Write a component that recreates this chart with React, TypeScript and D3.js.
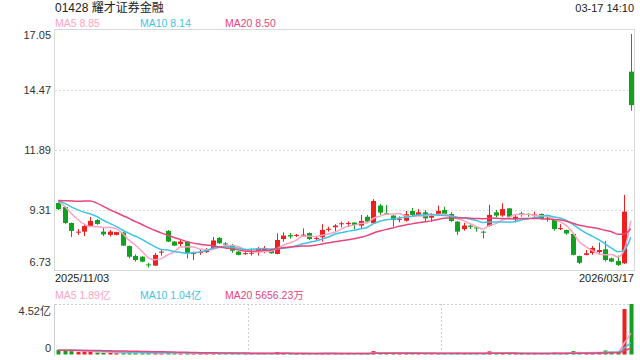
import React from 'react';
import * as d3 from 'd3';

const title = '01428 耀才证券金融';
const timeStamp = '03-17 14:10';
const startDate = '2025/11/03';
const endDate = '2026/03/17';
const priceTicks = [6.73, 9.31, 11.89, 14.47, 17.05];
const volTicks = [0, 4.52];
const volTickLabels = ['0', '4.52亿'];
const maLabels = ['MA5 8.85', 'MA10 8.14', 'MA20 8.50'];
const volMaLabels = ['MA5 1.89亿', 'MA10 1.04亿', 'MA20 5656.23万'];

const opens = [9.61, 9.44, 8.75, 8.36, 8.38, 8.62, 8.88, 8.38, 8.24, 8.24,
  8.34, 7.76, 7.33, 7.30, 6.97, 6.92, 7.48, 8.41, 7.95, 7.85,
  7.95, 7.42, 7.48, 7.50, 7.66, 8.11, 7.87, 7.81, 7.52, 7.43,
  7.44, 7.52, 7.55, 7.62, 7.42, 8.06, 8.23, 8.21, 8.22, 8.32,
  8.08, 8.14, 8.47, 8.57, 8.72, 8.73, 8.77, 8.64, 9.02, 8.74,
  9.50, 9.17, 9.07, 8.90, 8.85, 9.27, 9.10, 9.21, 8.98, 9.14,
  9.31, 9.14, 8.81, 8.49, 8.64, 8.56, 8.38, 8.62, 9.21, 9.07,
  9.38, 8.91, 9.17, 9.14, 9.10, 9.14, 8.98, 8.88, 8.50, 8.45,
  8.28, 7.33, 7.38, 7.46, 7.50, 7.62, 7.23, 7.12, 7.02, 15.26];
const highs = [9.65, 9.48, 8.77, 8.49, 8.71, 9.01, 8.92, 8.54, 8.45, 8.38,
  8.38, 7.78, 7.40, 7.33, 7.04, 7.46, 7.63, 8.45, 7.98, 8.02,
  7.98, 7.52, 7.59, 7.68, 8.15, 8.15, 7.93, 7.85, 7.55, 7.52,
  7.66, 7.71, 7.76, 7.64, 8.31, 8.35, 8.32, 8.28, 8.52, 8.34,
  8.17, 8.70, 8.59, 8.70, 8.81, 8.82, 8.78, 9.10, 9.10, 9.78,
  9.57, 9.53, 9.10, 9.03, 9.27, 9.40, 9.35, 9.31, 9.17, 9.50,
  9.45, 9.22, 8.84, 8.76, 8.74, 8.59, 8.42, 9.53, 9.31, 9.60,
  9.40, 9.10, 9.24, 9.17, 9.24, 9.16, 9.02, 8.92, 8.70, 8.47,
  8.30, 7.35, 7.59, 7.76, 7.91, 7.98, 7.27, 7.35, 9.96, 16.88];
const lows = [9.31, 8.71, 8.15, 8.24, 8.19, 8.60, 8.67, 8.19, 8.17, 8.22,
  7.76, 7.23, 7.09, 7.07, 6.84, 6.90, 7.35, 7.93, 7.76, 7.74,
  7.23, 7.16, 7.38, 7.46, 7.64, 7.85, 7.72, 7.47, 7.36, 7.38,
  7.35, 7.35, 7.45, 7.43, 7.40, 7.95, 8.08, 8.15, 8.19, 8.02,
  8.02, 7.95, 8.38, 8.38, 8.57, 8.58, 8.48, 8.52, 8.74, 8.72,
  9.10, 9.09, 8.59, 8.78, 8.81, 9.05, 9.08, 8.81, 8.81, 9.14,
  9.10, 8.80, 8.24, 8.42, 8.49, 8.38, 8.09, 8.59, 9.00, 9.02,
  9.00, 8.78, 9.02, 9.02, 9.02, 8.90, 8.81, 8.42, 8.45, 8.24,
  7.36, 6.99, 7.36, 7.38, 7.38, 7.09, 7.07, 6.90, 6.99, 13.58];
const closes = [9.35, 8.75, 8.41, 8.38, 8.62, 8.84, 8.71, 8.26, 8.38, 8.36,
  7.78, 7.30, 7.16, 7.09, 6.94, 7.38, 7.52, 7.95, 7.78, 7.95,
  7.45, 7.46, 7.51, 7.63, 8.00, 7.88, 7.83, 7.56, 7.38, 7.45,
  7.47, 7.66, 7.64, 7.45, 8.02, 8.21, 8.17, 8.24, 8.25, 8.06,
  8.11, 8.45, 8.50, 8.64, 8.74, 8.75, 8.67, 8.84, 8.81, 9.70,
  9.20, 9.10, 8.88, 8.93, 9.13, 9.10, 9.21, 8.95, 9.07, 9.27,
  9.14, 8.84, 8.38, 8.64, 8.59, 8.53, 8.34, 9.10, 9.07, 9.35,
  9.02, 9.02, 9.13, 9.11, 9.12, 8.92, 8.95, 8.49, 8.53, 8.30,
  7.38, 7.04, 7.45, 7.68, 7.59, 7.16, 7.09, 6.95, 9.24, 13.82];
// volume in 亿
const volumes = [0.42, 0.38, 0.30, 0.22, 0.28, 0.30, 0.18, 0.15, 0.14, 0.12,
  0.22, 0.20, 0.14, 0.12, 0.13, 0.20, 0.12, 0.25, 0.12, 0.10,
  0.14, 0.10, 0.08, 0.08, 0.14, 0.10, 0.07, 0.09, 0.08, 0.06,
  0.06, 0.07, 0.06, 0.07, 0.22, 0.12, 0.08, 0.07, 0.09, 0.08,
  0.06, 0.14, 0.09, 0.08, 0.07, 0.07, 0.08, 0.12, 0.10, 0.30,
  0.18, 0.12, 0.10, 0.07, 0.10, 0.08, 0.07, 0.09, 0.07, 0.10,
  0.08, 0.09, 0.15, 0.08, 0.06, 0.06, 0.09, 0.28, 0.12, 0.14,
  0.12, 0.08, 0.07, 0.06, 0.07, 0.08, 0.07, 0.16, 0.10, 0.10,
  0.30, 0.18, 0.12, 0.15, 0.20, 0.36, 0.25, 0.25, 4.07, 4.52];
const priorCloses = [8.9, 8.7, 8.6, 8.5, 8.7, 10.6, 11.0, 11.2, 10.9, 10.3,
  9.8, 9.9, 9.6, 9.7, 9.6, 9.8, 9.9, 9.7, 9.66];
const priorVolumes = [0.35, 0.40, 0.42, 0.38, 0.36, 0.40, 0.39, 0.37, 0.41, 0.38,
  0.36, 0.40, 0.38, 0.42, 0.37, 0.39, 0.36, 0.40, 0.38];

const RED = '#f01f1f';
const GREEN = '#12a020';
const MA_COLORS = ['#ffa3c2', '#3fc4e4', '#e8457a'];
const MA_PERIODS = [5, 10, 20];
const FONT = "'Liberation Sans', Arial, 'Noto Sans CJK SC', sans-serif";

function movingAvg(prior: number[], vals: number[], n: number): number[] {
  const all = prior.concat(vals);
  const off = prior.length;
  return vals.map((_, i) => {
    const end = off + i;
    return d3.mean(all.slice(end - n + 1, end + 1)) as number;
  });
}

export default function App() {
  const left = 55, right = 634, top = 30, bottom = 270;
  const vTop = 304, vBottom = 354.5;
  const idx = d3.range(closes.length);
  const x = d3.scaleBand<number>().domain(idx).range([left, right]).padding(0);
  const cx = (i: number) => (x(i) as number) + x.bandwidth() / 2;
  const y = d3.scaleLinear().domain([priceTicks[0], priceTicks[priceTicks.length - 1]]).range([bottom, top]);
  const yv = d3.scaleLinear().domain([volTicks[0], volTicks[1]]).range([vBottom, vTop]);

  const maLines = MA_PERIODS.map(p => movingAvg(priorCloses, closes, p));
  const vmaLines = MA_PERIODS.map(p => movingAvg(priorVolumes, volumes, p));
  const line = d3.line<number>().x((_, i) => cx(i)).y(d => y(d)).curve(d3.curveMonotoneX);
  const vline = d3.line<number>().x((_, i) => cx(i)).y(d => yv(d)).curve(d3.curveMonotoneX);

  const thirds = [1, 2].map(k => Math.round(left + (right - left) * k / 3) + 0.5);

  return (
    <svg width={640} height={360} style={{ position: 'absolute', left: 0, top: 0, background: '#fff' }} fontFamily={FONT}>
      <rect x={0} y={0} width={640} height={360} fill="#fff" />
      <text x={55} y={12} fontSize={12} fill="#222">{title}</text>
      <text x={634} y={12} fontSize={11} fill="#222" textAnchor="end">{timeStamp}</text>
      {maLabels.map((t, k) => (
        <text key={k} x={55 + k * 85} y={27} fontSize={10.5} fill={MA_COLORS[k]}>{t}</text>
      ))}
      {/* main frame */}
      <rect x={left - 0.5} y={top - 0.5} width={right - left + 1} height={bottom - top + 1} fill="none" stroke="#d8d8d8" />
      {priceTicks.slice(1, -1).map((t, k) => (
        <line key={k} x1={left} x2={right} y1={Math.round(y(t)) + 0.5} y2={Math.round(y(t)) + 0.5} stroke="#dcdcdc" strokeDasharray="2,2" />
      ))}
      {priceTicks.map((t, k) => {
        const last = k === priceTicks.length - 1;
        const first = k === 0;
        const yy = y(t) + (last ? 8.5 : first ? -4 : 4);
        return <text key={k} x={51} y={yy} fontSize={11} fill="#333" textAnchor="end">{t.toFixed(2)}</text>;
      })}
      {/* candles */}
      {idx.map(i => {
        const up = closes[i] >= opens[i];
        const c = up ? RED : GREEN;
        const rx = Math.round(cx(i));
        const yTop = y(Math.max(opens[i], closes[i]));
        const yBot = y(Math.min(opens[i], closes[i]));
        return (
          <g key={i}>
            <line x1={rx + 0.5} x2={rx + 0.5} y1={y(highs[i])} y2={y(lows[i])} stroke={c} strokeWidth={1} />
            <rect x={rx - 2} y={yTop} width={5} height={Math.max(1, yBot - yTop)} fill={c} />
          </g>
        );
      })}
      {maLines.map((m, k) => (
        <path key={k} d={line(m) as string} fill="none" stroke={MA_COLORS[k]} strokeWidth={1.5} />
      ))}
      <text x={55} y={282} fontSize={11} fill="#222">{startDate}</text>
      <text x={634} y={282} fontSize={11} fill="#222" textAnchor="end">{endDate}</text>
      {volMaLabels.map((t, k) => (
        <text key={k} x={55 + k * 85} y={298.5} fontSize={10.5} fill={MA_COLORS[k]}>{t}</text>
      ))}
      {/* volume frame */}
      <line x1={left} x2={right} y1={vTop + 0.5} y2={vTop + 0.5} stroke="#cfcfcf" strokeDasharray="2,2" />
      {thirds.map((tx, k) => (
        <line key={k} x1={tx} x2={tx} y1={vTop} y2={vBottom} stroke="#cfcfcf" strokeDasharray="2,2" />
      ))}
      <line x1={left - 0.5} x2={left - 0.5} y1={vTop} y2={vBottom + 1} stroke="#cfcfcf" />
      <text x={51} y={yv(volTicks[1]) + 11} fontSize={11} fill="#333" textAnchor="end">{volTickLabels[1]}</text>
      <text x={51} y={yv(volTicks[0]) - 2.5} fontSize={11} fill="#333" textAnchor="end">{volTickLabels[0]}</text>
      {idx.map(i => {
        const up = closes[i] >= opens[i];
        const rx = Math.round(cx(i));
        const yy = yv(volumes[i]);
        return <rect key={i} x={rx - 1.5} y={Math.min(yy, vBottom - 1)} width={4} height={Math.max(1, vBottom - yy)} fill={up ? RED : GREEN} />;
      })}
      {vmaLines.map((m, k) => (
        <path key={k} d={vline(m) as string} fill="none" stroke={MA_COLORS[k]} strokeWidth={1.5} />
      ))}
    </svg>
  );
}
